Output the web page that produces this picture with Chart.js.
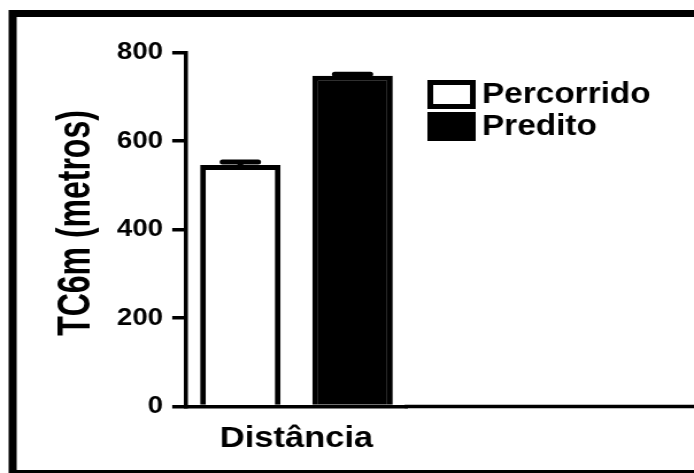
<!DOCTYPE html>
<html>
<head>
<meta charset="utf-8">
<script src="https://cdn.jsdelivr.net/npm/chart.js@4.4.1/dist/chart.umd.min.js"></script>
<style>
  html, body { margin: 0; padding: 0; background: #fff; overflow: hidden; }
  /* the original figure is stretched sideways, so the chart is drawn narrower and widened */
  #wrap { width: 604px; height: 473px; transform: scaleX(1.149); transform-origin: 0 0; }
</style>
</head>
<body>
<div id="wrap"><canvas id="chart"></canvas></div>
<script>
const categories = ['Distância'];
const seriesNames = ['Percorrido', 'Predito'];
const percorrido = [546];
const predito = [748];
const percorridoErr = [7];
const preditoErr = [3];
const yTicks = [0, 200, 400, 600, 800];
const yTitle = 'TC6m (metros)';

const FONT = "'Liberation Sans', Arial, sans-serif";

const framePlugin = {
  id: 'frame',
  beforeDraw(chart) {
    const ctx = chart.ctx;
    ctx.save();
    ctx.fillStyle = '#fff';
    ctx.fillRect(0, 0, chart.width, chart.height);
    ctx.strokeStyle = '#000';
    ctx.lineWidth = 7;
    ctx.strokeRect(11, 13.5, 720, 460);
    ctx.restore();
  },
  afterDraw(chart) {
    // x axis keeps running under the legend to the edge
    const ctx = chart.ctx;
    const a = chart.chartArea;
    ctx.save();
    ctx.strokeStyle = '#000';
    ctx.lineWidth = 3.5;
    ctx.beginPath();
    ctx.moveTo(a.right - 2, a.bottom);
    ctx.lineTo(chart.width, a.bottom);
    ctx.stroke();
    ctx.restore();
  }
};

const errorBars = {
  id: 'errorBars',
  afterDatasetsDraw(chart) {
    const ctx = chart.ctx;
    const y = chart.scales.y;
    const errs = [percorridoErr, preditoErr];
    ctx.save();
    ctx.strokeStyle = '#000';
    ctx.lineWidth = 5;
    ctx.lineCap = 'round';
    chart.data.datasets.forEach((ds, i) => {
      chart.getDatasetMeta(i).data.forEach((bar, j) => {
        const top = y.getPixelForValue(ds.data[j] + errs[i][j]);
        ctx.beginPath();
        ctx.moveTo(bar.x, bar.y);
        ctx.lineTo(bar.x, top);
        ctx.moveTo(bar.x - 15.5, top);
        ctx.lineTo(bar.x + 15.5, top);
        ctx.stroke();
      });
    });
    ctx.restore();
  }
};

const sideLegend = {
  id: 'sideLegend',
  afterDraw(chart) {
    const ctx = chart.ctx;
    ctx.save();
    chart.data.datasets.forEach((ds, i) => {
      const top = 80 + i * 32;
      ctx.fillStyle = ds.backgroundColor;
      ctx.fillRect(372, top, 42, 29);
      ctx.strokeStyle = '#000';
      ctx.lineWidth = 5;
      ctx.strokeRect(374.5, top + 2.5, 37, 24);
      ctx.fillStyle = '#000';
      ctx.font = 'bold 29px ' + FONT;
      ctx.textBaseline = 'middle';
      ctx.textAlign = 'left';
      ctx.fillText(ds.label, 419.5, top + 15);
    });
    ctx.restore();
  }
};

const yTitlePlugin = {
  id: 'yTitle',
  afterDraw(chart) {
    const ctx = chart.ctx;
    ctx.save();
    ctx.translate(67, 223);
    ctx.rotate(-Math.PI / 2);
    ctx.scale(0.78, 1);
    ctx.fillStyle = '#000';
    ctx.font = 'bold 41px ' + FONT;
    ctx.textAlign = 'center';
    ctx.textBaseline = 'middle';
    ctx.fillText(yTitle, 0, 0);
    ctx.restore();
  }
};

new Chart(document.getElementById('chart'), {
  type: 'bar',
  data: {
    labels: categories,
    datasets: [
      { label: seriesNames[0], data: percorrido, backgroundColor: '#fff', borderColor: '#000', borderWidth: 5 },
      { label: seriesNames[1], data: predito, backgroundColor: '#000', borderColor: '#000', borderWidth: 5 }
    ]
  },
  options: {
    responsive: true,
    maintainAspectRatio: false,
    animation: false,
    devicePixelRatio: 1,
    categoryPercentage: 1.016,
    barPercentage: 0.717,
    layout: { padding: { left: 0, top: 52.7, right: 249.9, bottom: 0 } },
    plugins: { legend: { display: false }, tooltip: { enabled: false } },
    scales: {
      x: {
        offset: true,
        grid: { display: false },
        border: { display: true, color: '#000', width: 3.5 },
        ticks: { color: '#000', autoSkip: false, maxRotation: 0, padding: 6, font: { family: FONT, size: 30, weight: 'bold' } },
        afterFit: s => { s.height = 66.5; }
      },
      y: {
        min: yTicks[0],
        max: yTicks[yTicks.length - 1],
        grid: { display: true, drawOnChartArea: false, drawTicks: true, tickLength: 12, tickWidth: 3.5, tickColor: '#000', lineWidth: 3.5, color: '#000' },
        border: { display: true, color: '#000', width: 3.5 },
        ticks: { stepSize: yTicks[1] - yTicks[0], color: '#000', padding: 8, font: { family: FONT, size: 24, weight: 'bold' } },
        afterFit: s => { s.width = 161.9; }
      }
    }
  },
  plugins: [framePlugin, errorBars, sideLegend, yTitlePlugin]
});
</script>
</body>
</html>
